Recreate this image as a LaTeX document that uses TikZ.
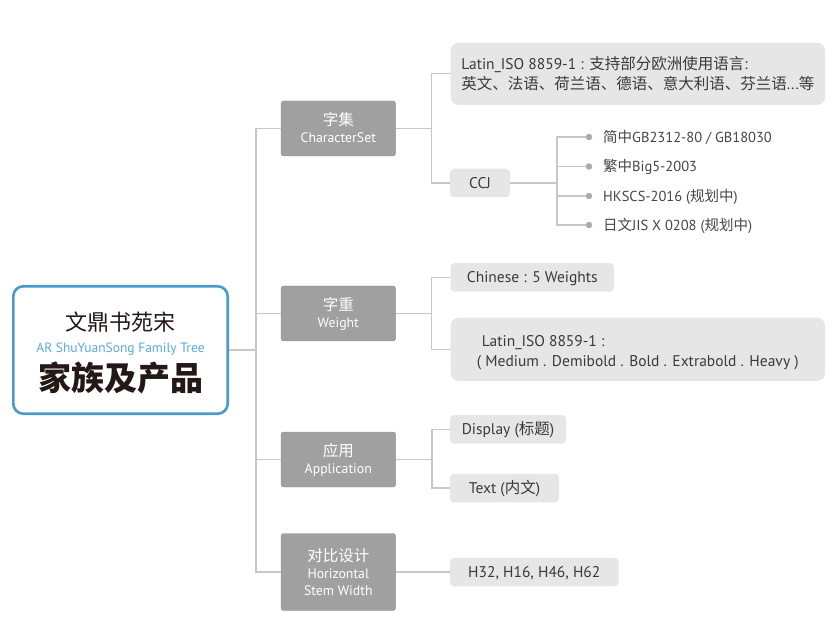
\documentclass[tikz,border=0pt]{standalone}
\usepackage{fontspec}
\setmainfont{PT Sans}
\newfontfamily\cjk{Noto Sans CJK SC}
\newcommand\zh[1]{{\cjk #1}}
\newcommand\tstrut[1]{\rule{0pt}{#1}}
\newcommand\bstrut[1]{\rule[-#1]{0pt}{#1}}
\definecolor{rootblue}{HTML}{4A9ACB}
\definecolor{subblue}{HTML}{5AAADC}
\definecolor{catgray}{HTML}{A0A0A0}
\definecolor{catedge}{HTML}{979797}
\definecolor{leafgray}{HTML}{E6E6E7}
\definecolor{linegray}{HTML}{C8C8C8}
\definecolor{dotgray}{HTML}{ABABAB}
\definecolor{txt}{HTML}{3A3A3A}
\definecolor{itemtxt}{HTML}{454545}
\definecolor{roottxt}{HTML}{231815}
\begin{document}
\begin{tikzpicture}[x=1pt,y=-1pt,
  conn/.style={draw=linegray, line width=1.2pt},
  rootbox/.style={draw=rootblue, line width=2.6pt, rounded corners=10pt, fill=white,
    minimum width=214.4pt, minimum height=127.4pt, inner sep=0pt},
  roottext/.style={anchor=base, inner sep=0pt, text=roottxt},
  catbox/.style={fill=catgray, draw=catedge, line width=0.4pt, rounded corners=2.5pt,
    minimum width=114.5pt, inner sep=0pt, text=white, align=center,
    font=\fontsize{13.8}{17}\selectfont},
  leafbase/.style={fill=leafgray, inner sep=0pt, text=txt, font=\fontsize{15.5}{19.5}\selectfont},
  leaf/.style={leafbase, rounded corners=4pt, minimum height=28.5pt, text height=13pt, text depth=2.2pt},
  bigleaf/.style={leafbase, rounded corners=8pt, minimum width=374.3pt, align=left},
  itemtext/.style={anchor=base west, inner sep=0pt, text=itemtxt, font=\fontsize{14.5}{17}\selectfont},
  dotnode/.style={circle, fill=dotgray, minimum size=6.5pt, inner sep=0pt},
]
\useasboundingbox (0,0) rectangle (833,644);

% root
\node[rootbox] (root) at (120.5,350) {};
\node[roottext, font=\cjk\fontsize{22}{22}\selectfont] (rootzh) at (120.5,331) {文鼎书苑宋};
\node[roottext, text=subblue, font=\fontsize{13.5}{13.5}\selectfont] (rooten) at (120.5,352.5) {AR ShuYuanSong Family Tree};
\node[roottext, font=\cjk\bfseries\fontsize{33}{33}\selectfont] (roottitle) at (120.5,390.5) {家族及产品};

% categories
\node[catbox, minimum height=55pt] (c1) at (338.3,128.5)
  {\tstrut{14pt}\zh{\fontsize{15.5}{17}\selectfont 字集}\\CharacterSet\bstrut{3.5pt}};
\node[catbox, minimum height=55pt] (c2) at (338.3,313.5)
  {\tstrut{14pt}\zh{\fontsize{15.5}{17}\selectfont 字重}\\Weight\bstrut{3.5pt}};
\node[catbox, minimum height=55pt] (c3) at (338.3,459.5)
  {\tstrut{14pt}\zh{\fontsize{15.5}{17}\selectfont 应用}\\Application\bstrut{3.5pt}};
\node[catbox, minimum height=77pt] (c4) at (338.3,572)
  {\tstrut{15pt}\zh{\fontsize{15.5}{17}\selectfont 对比设计}\\Horizontal\\Stem Width\bstrut{3pt}};

% leaves
\node[bigleaf, minimum height=62.3pt] (l11) at (637.85,73.85)
  {\tstrut{14.5pt}Latin\_ISO 8859-1 : \zh{支持部分欧洲使用语言}:\\
   \zh{英文、法语、荷兰语、德语、意大利语、芬兰语}...\zh{等}\bstrut{3.5pt}};
\node[leaf, minimum width=60pt] (l12) at (480,183) {CCJ};
\node[leaf, minimum width=163.3pt] (l21) at (532.3,277.4) {Chinese : 5 Weights};
\node[bigleaf, minimum height=63.3pt, font=\fontsize{15.5}{20}\selectfont] (l22) at (637.85,349.35)
  {\tstrut{18.1pt}\hspace{5pt}Latin\_ISO 8859-1 :\\
   ( Medium . Demibold . Bold . Extrabold . Heavy )\bstrut{4pt}};
\node[leaf, minimum width=116pt] (l31) at (508,429.4) {Display (\zh{标题})};
\node[leaf, minimum width=109pt] (l32) at (504.5,488) {Text (\zh{内文})};
\node[leaf, minimum width=168.7pt] (l41) at (534.3,572) {H32, H16, H46, H62};

% CCJ items
\node[dotnode] (d1) at (589,137) {};
\node[dotnode] (d2) at (589,166.5) {};
\node[dotnode] (d3) at (589,196) {};
\node[dotnode] (d4) at (589,225) {};
\node[itemtext] (i1) at (603,142.3) {\zh{简中}GB2312-80 / GB18030};
\node[itemtext] (i2) at (603,171.8) {\zh{繁中}Big5-2003};
\node[itemtext] (i3) at (603,201.3) {HKSCS-2016 (\zh{规划中})};
\node[itemtext] (i4) at (603,230.3) {\zh{日文}JIS X 0208 (\zh{规划中})};

% junction coordinates
\coordinate (tk) at (256,350);
\coordinate (b1) at (431.5,128.5);
\coordinate (b2) at (431.5,313.5);
\coordinate (b3) at (432,459.5);
\coordinate (b5) at (557,183);

% connectors
\draw[conn] (root.east) -- (tk);
\draw[conn] (c1.west) -| (tk) |- (c4.west);
\draw[conn] (c2.west) -- (c2.west -| tk);
\draw[conn] (c3.west) -- (c3.west -| tk);

\draw[conn] (c1.east) -- (b1);
\draw[conn] (l11.west) -| (b1) |- (l12.west);
\draw[conn] (c2.east) -- (b2);
\draw[conn] (l21.west) -| (b2) |- (l22.west);
\draw[conn] (c3.east) -- (b3);
\draw[conn] (l31.west) -| (b3) |- (l32.west);
\draw[conn] (c4.east) -- (l41.west);

\draw[conn] (l12.east) -- (b5);
\draw[conn] (d1) -| (b5) |- (d4);
\draw[conn] (d2) -- (d2 -| b5);
\draw[conn] (d3) -- (d3 -| b5);
\end{tikzpicture}
\end{document}
